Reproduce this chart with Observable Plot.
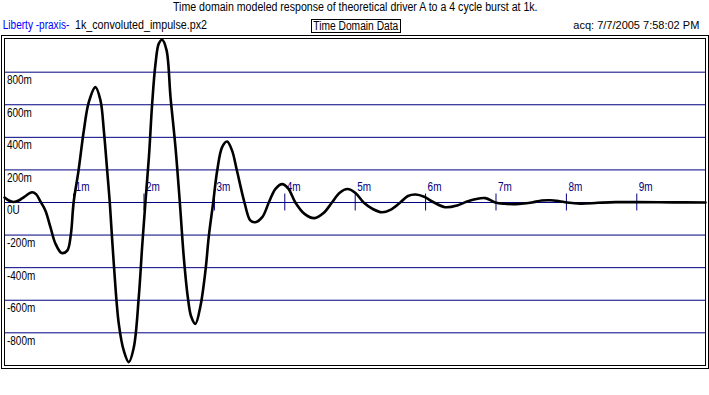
<!DOCTYPE html>
<html><head><meta charset="utf-8">
<script src="https://cdn.jsdelivr.net/npm/d3@7"></script>
<script src="https://cdn.jsdelivr.net/npm/@observablehq/plot@0.6"></script>
<style>
body{margin:0;background:#fff;}
#chart svg{display:block;}
</style></head><body><div id="chart"></div>
<script>
const timeMs = [0.02,0.08,0.15,0.22,0.30,0.41,0.47,0.53,0.60,0.67,0.74,0.83,0.91,0.96,1.00,1.07,1.145,1.216,1.31,1.382,1.43,1.477,1.514,1.571,1.642,1.713,1.784,1.855,1.926,1.974,2.02,2.07,2.116,2.163,2.21,2.258,2.32,2.377,2.447,2.509,2.565,2.622,2.67,2.73,2.80,2.874,2.92,2.983,3.04,3.11,3.18,3.25,3.32,3.427,3.51,3.58,3.68,3.773,3.868,3.963,4.05,4.15,4.28,4.42,4.55,4.67,4.78,4.89,5.00,5.12,5.25,5.38,5.50,5.64,5.75,5.86,5.98,6.12,6.28,6.45,6.58,6.70,6.85,6.99,7.12,7.28,7.40,7.51,7.65,7.77,7.90,8.01,8.2,8.45,8.7,9.0,9.5,9.976];
const response = [0.03,0.012,0.003,0.012,0.035,0.063,0.05,0.005,-0.05,-0.15,-0.25,-0.31,-0.295,-0.2,0.0,0.196,0.44,0.616,0.708,0.626,0.44,0.196,0.0,-0.376,-0.745,-0.91,-0.98,-0.89,-0.58,-0.27,0.0,0.28,0.606,0.85,0.975,0.999,0.935,0.646,0.34,0.0,-0.335,-0.58,-0.70,-0.745,-0.64,-0.415,-0.21,0.0,0.196,0.34,0.374,0.32,0.196,0.0,-0.11,-0.121,-0.09,0.0,0.084,0.113,0.085,0.0,-0.07,-0.096,-0.065,0.0,0.06,0.083,0.06,0.0,-0.04,-0.06,-0.045,0.0,0.04,0.049,0.035,0.0,-0.029,-0.018,0.005,0.02,0.027,0.0,-0.008,-0.01,-0.006,0.0,0.012,0.014,0.008,0.0,-0.007,-0.002,0.002,0.002,0.001,0.0];
const yTicks = [-0.8,-0.6,-0.4,-0.2,0,0.2,0.4,0.6,0.8];
const yTickLabels = ["-800m","-600m","-400m","-200m","0U","200m","400m","600m","800m"];
const xTicks = [1,2,3,4,5,6,7,8,9];
const xTickLabels = ["1m","2m","3m","4m","5m","6m","7m","8m","9m"];
const titleText = "Time domain modeled response of theoretical driver A to a 4 cycle burst at 1k.";
const sourceLabel = "Liberty -praxis-";
const fileLabel = "1k_convoluted_impulse.px2";
const panelLabel = "Time Domain Data";
const acqLabel = "acq: 7/7/2005 7:58:02 PM";

const FONT = '"Liberation Sans", Arial, sans-serif';
const NAVY = "#000080";
const data = timeMs.map((t, i) => ({t, v: response[i]}));

const chart = Plot.plot({
  width: 709, height: 395,
  marginLeft: 4, marginRight: 4, marginTop: 38, marginBottom: 30,
  x: {domain: [0.0185, 9.976], axis: null},
  y: {domain: [-1.0006, 1.0067], axis: null},
  style: {background: "#fff", fontFamily: FONT, fontSize: "12px", overflow: "visible"},
  marks: [
    Plot.ruleY(yTicks, {stroke: NAVY, strokeWidth: 1}),
    Plot.ruleX(xTicks, {y1: -0.052, y2: 0.052, stroke: NAVY, strokeWidth: 1}),
    Plot.text(xTicks, {x: d => d, y: 0.069, text: (d, i) => xTickLabels[i], textAnchor: "start", lineAnchor: "bottom", dx: 2, fill: NAVY}),
    Plot.text(yTicks, {y: d => d, frameAnchor: "left", text: (d, i) => yTickLabels[i], textAnchor: "start", lineAnchor: "bottom", dx: 2.5, dy: 12, fill: "#000"}),
    Plot.line(data, {x: "t", y: "v", stroke: "#000", strokeWidth: 2.6, curve: "catmull-rom"}),
    Plot.frame({stroke: "#000"}),
    Plot.frame({stroke: "#000", insetTop: -3, insetBottom: -3, insetLeft: -3, insetRight: -3})
  ]
});
document.getElementById("chart").appendChild(chart);

// compress axis labels to the narrow look of the original
chart.querySelectorAll('g[aria-label="text"] text').forEach(t => {
  const w = t.getComputedTextLength();
  t.setAttribute("textLength", (w * 0.83).toFixed(2));
  t.setAttribute("lengthAdjust", "spacingAndGlyphs");
});

const svg = d3.select(chart);
const hdr = svg.append("g").attr("font-family", FONT).attr("font-size", 12);
function addText(str, x, y, len, anchor, fill) {
  const t = hdr.append("text").attr("x", x).attr("y", y).attr("text-anchor", anchor)
    .attr("fill", fill).text(str);
  if (len) t.attr("textLength", len).attr("lengthAdjust", "spacingAndGlyphs");
  return t;
}
addText(titleText, 355.3, 10.5, 364.5, "middle", "#000");
addText(sourceLabel, 2.7, 28.5, 66.6, "start", "#0000ff");
addText(fileLabel, 75, 28.5, 132, "start", "#000");
hdr.append("rect").attr("x", 311.5).attr("y", 19.5).attr("width", 89).attr("height", 13)
  .attr("fill", "none").attr("stroke", "#000");
addText(panelLabel, 313.3, 29.5, 85, "start", "#000");
addText(acqLabel, 699.3, 28.5, 0, "end", "#000").attr("font-size", 11);
</script>
</body></html>
